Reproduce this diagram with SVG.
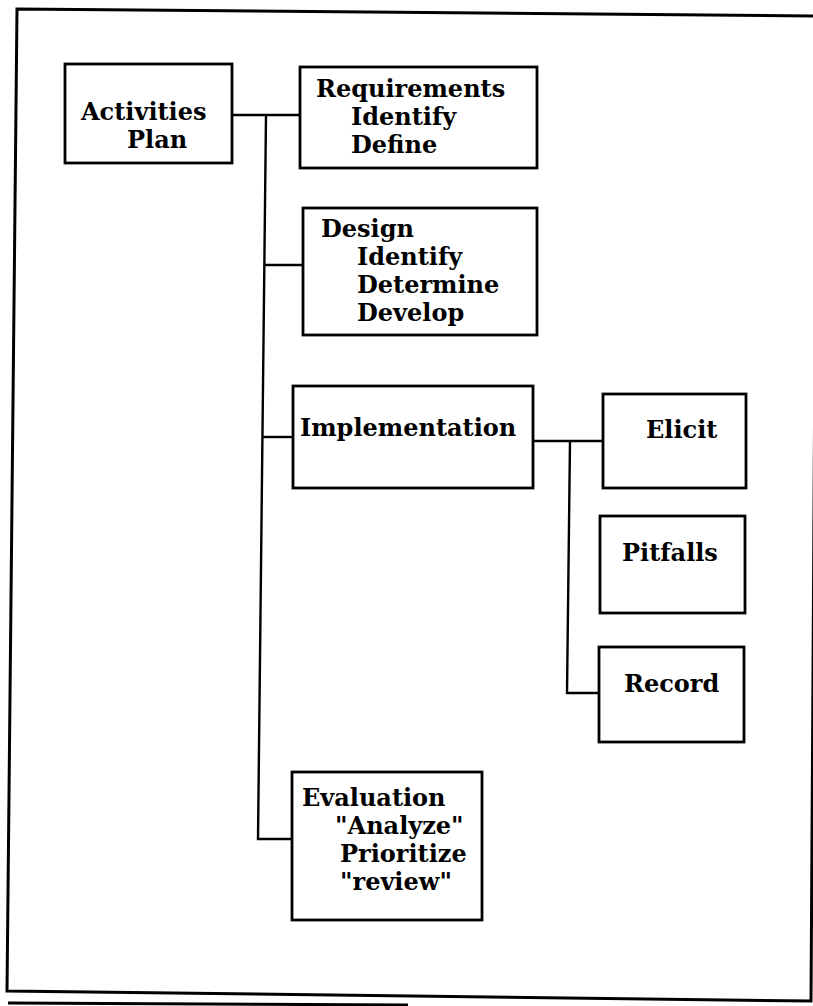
<svg xmlns="http://www.w3.org/2000/svg" width="813" height="1006" viewBox="0 0 813 1006">
<style>
.box{fill:#fff;stroke:#000;stroke-width:2.8}
.frame{fill:none;stroke:#000;stroke-width:3}
.conn{fill:none;stroke:#000;stroke-width:2.4}
text{font-family:"DejaVu Serif","Liberation Serif",serif;font-weight:bold;font-size:24px;fill:#000}
</style>
<rect width="813" height="1006" fill="#fff"/>
<polygon class="frame" points="17,9 817,16 811,1001 7,991"/>
<line class="frame" x1="8" y1="1003" x2="408" y2="1005"/>
<g id="connectors">
<path class="conn" d="M232,115 H300"/>
<path class="conn" d="M266,115 L258,839 H292"/>
<path class="conn" d="M265,265 H303"/>
<path class="conn" d="M263,437 H293"/>
<path class="conn" d="M533,441 H603"/>
<path class="conn" d="M570,441 L567,693 H600"/>
</g>
<g id="activities">
<rect class="box" x="65" y="64" width="167" height="99"/>
<text x="81" y="120">Activities</text>
<text x="127" y="148">Plan</text>
</g>
<g id="requirements">
<rect class="box" x="300" y="67" width="237" height="101"/>
<text x="316" y="97">Requirements</text>
<text x="351" y="125">Identify</text>
<text x="351" y="153">Define</text>
</g>
<g id="design">
<rect class="box" x="303" y="208" width="234" height="127"/>
<text x="321" y="237">Design</text>
<text x="357" y="265">Identify</text>
<text x="357" y="293">Determine</text>
<text x="357" y="321">Develop</text>
</g>
<g id="implementation">
<rect class="box" x="293" y="386" width="240" height="102"/>
<text x="300" y="436">Implementation</text>
</g>
<g id="elicit">
<rect class="box" x="603" y="394" width="143" height="94"/>
<text x="646" y="438">Elicit</text>
</g>
<g id="pitfalls">
<rect class="box" x="600" y="516" width="145" height="97"/>
<text x="622" y="561">Pitfalls</text>
</g>
<g id="record">
<rect class="box" x="599" y="647" width="145" height="95"/>
<text x="624" y="692">Record</text>
</g>
<g id="evaluation">
<rect class="box" x="292" y="772" width="190" height="148"/>
<text x="302" y="806">Evaluation</text>
<text x="335" y="834">"Analyze"</text>
<text x="340" y="862">Prioritize</text>
<text x="340" y="890">"review"</text>
</g>
</svg>
